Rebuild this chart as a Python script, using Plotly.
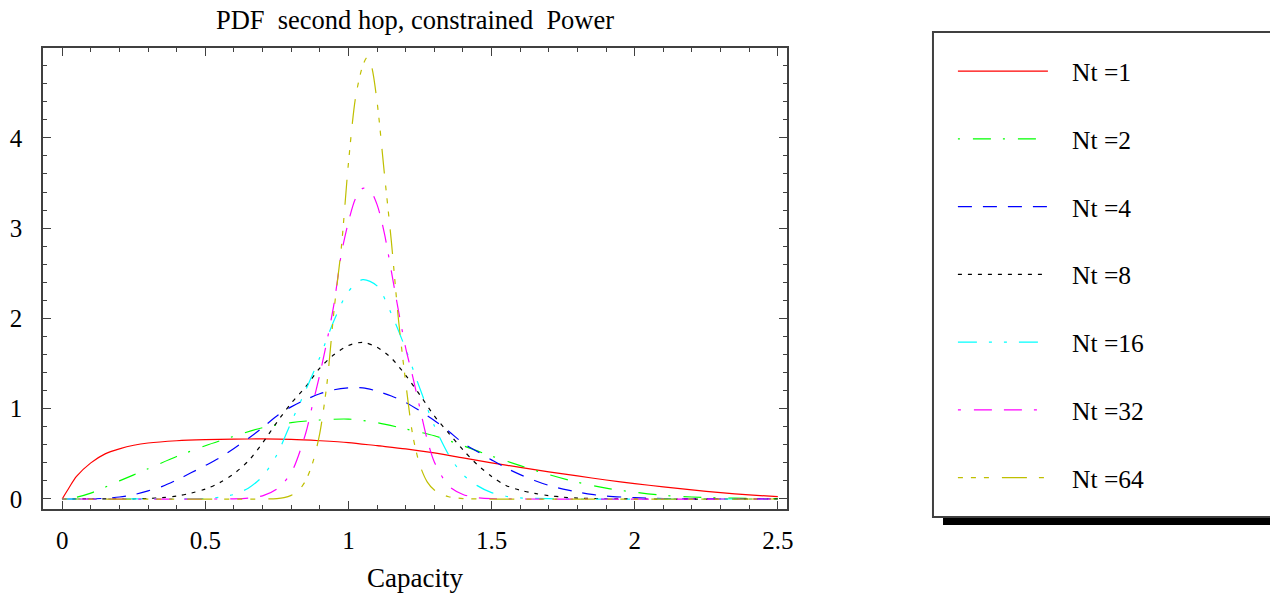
import plotly.graph_objects as go

# ---- data ----
series_names = ["Nt =1", "Nt =2", "Nt =4", "Nt =8", "Nt =16", "Nt =32", "Nt =64"]

x_nt1 = [0, 0.025, 0.05, 0.1, 0.15, 0.2, 0.25, 0.3, 0.4, 0.5, 0.6, 0.7, 0.8, 0.9, 1.0, 1.1, 1.2, 1.3,
         1.4, 1.5, 1.6, 1.7, 1.8, 1.9, 2.0, 2.1, 2.2, 2.3, 2.4, 2.5]
y_nt1 = [0, 0.13, 0.25, 0.40, 0.50, 0.555, 0.595, 0.62, 0.645, 0.657, 0.663, 0.665, 0.66, 0.645, 0.625,
         0.59, 0.555, 0.51, 0.455, 0.40, 0.35, 0.30, 0.255, 0.21, 0.17, 0.135, 0.10, 0.07, 0.045, 0.025]

x_nt2 = [0, 0.05, 0.1, 0.2, 0.3, 0.4, 0.5, 0.6, 0.7, 0.8, 0.9, 1.0, 1.1, 1.2, 1.3, 1.4, 1.5, 1.6, 1.7,
         1.8, 1.9, 2.0, 2.1, 2.2, 2.3, 2.4, 2.5]
y_nt2 = [0, 0.02, 0.065, 0.20, 0.335, 0.47, 0.59, 0.695, 0.79, 0.845, 0.875, 0.885, 0.845, 0.775, 0.70,
         0.59, 0.475, 0.37, 0.27, 0.185, 0.12, 0.075, 0.04, 0.022, 0.012, 0.006, 0.003]

x_nt4 = [0, 0.1, 0.15, 0.2, 0.25, 0.3, 0.35, 0.4, 0.45, 0.5, 0.55, 0.6, 0.65, 0.7, 0.75, 0.8, 0.85, 0.9,
         0.95, 1.0, 1.05, 1.1, 1.15, 1.2, 1.25, 1.3, 1.35, 1.4, 1.45, 1.5, 1.55, 1.6, 1.65, 1.7, 1.75,
         1.8, 1.85, 1.9, 2.0, 2.1, 2.2, 2.5]
y_nt4 = [0, 0.001, 0.008, 0.022, 0.048, 0.09, 0.14, 0.21, 0.29, 0.37, 0.455, 0.56, 0.67, 0.79, 0.92,
         1.02, 1.10, 1.165, 1.21, 1.23, 1.23, 1.195, 1.14, 1.07, 0.975, 0.87, 0.75, 0.62, 0.525, 0.433,
         0.345, 0.27, 0.205, 0.15, 0.11, 0.077, 0.05, 0.033, 0.014, 0.005, 0.002, 0]

x_nt8 = [0, 0.25, 0.3, 0.35, 0.4, 0.45, 0.5, 0.55, 0.6, 0.65, 0.7, 0.75, 0.8, 0.85, 0.9, 0.95, 1.0, 1.05,
         1.1, 1.15, 1.2, 1.25, 1.3, 1.35, 1.4, 1.45, 1.5, 1.55, 1.6, 1.65, 1.7, 1.75, 1.8, 1.9, 2.0, 2.5]
y_nt8 = [0, 0.002, 0.006, 0.015, 0.032, 0.065, 0.11, 0.18, 0.28, 0.42, 0.62, 0.85, 1.06, 1.24, 1.45,
         1.60, 1.70, 1.735, 1.68, 1.56, 1.37, 1.15, 0.92, 0.73, 0.545, 0.38, 0.25, 0.15, 0.097, 0.062,
         0.037, 0.02, 0.01, 0.003, 0, 0]

x_nt16 = [0, 0.45, 0.5, 0.55, 0.6, 0.65, 0.7, 0.75, 0.8, 0.85, 0.9, 0.95, 1.0, 1.05, 1.1, 1.15, 1.2,
          1.25, 1.3, 1.35, 1.4, 1.45, 1.5, 1.55, 1.6, 1.7, 1.8, 2.5]
y_nt16 = [0, 0.002, 0.005, 0.02, 0.05, 0.12, 0.25, 0.49, 0.85, 1.20, 1.57, 1.98, 2.30, 2.43, 2.36,
          2.05, 1.66, 1.22, 0.81, 0.49, 0.27, 0.148, 0.07, 0.03, 0.012, 0.003, 0, 0]

x_nt32 = [0, 0.6, 0.65, 0.7, 0.75, 0.8, 0.85, 0.875, 0.9, 0.925, 0.95, 0.975, 1.0, 1.025, 1.05, 1.075,
          1.1, 1.125, 1.15, 1.175, 1.2, 1.225, 1.25, 1.275, 1.3, 1.35, 1.4, 1.45, 1.5, 1.6, 2.5]
y_nt32 = [0, 0.002, 0.01, 0.035, 0.11, 0.29, 0.72, 1.05, 1.38, 1.75, 2.17, 2.71, 3.07, 3.33, 3.44, 3.42,
          3.26, 2.95, 2.52, 2.08, 1.67, 1.35, 1.0, 0.66, 0.41, 0.145, 0.05, 0.015, 0.003, 0, 0]

x_nt64 = [0, 0.7, 0.75, 0.775, 0.8, 0.825, 0.85, 0.875, 0.9, 0.925, 0.95, 0.975, 1.0, 1.025, 1.05,
          1.065, 1.08, 1.1, 1.125, 1.15, 1.175, 1.2, 1.225, 1.25, 1.275, 1.3, 1.325, 1.35, 1.4, 1.45, 2.5]
y_nt64 = [0, 0, 0.005, 0.015, 0.04, 0.09, 0.2, 0.40, 0.73, 1.28, 2.10, 2.78, 3.72, 4.45, 4.80, 4.89,
          4.80, 4.40, 3.62, 2.85, 1.98, 1.29, 0.70, 0.37, 0.19, 0.10, 0.055, 0.025, 0.005, 0, 0]

xs = [x_nt1, x_nt2, x_nt4, x_nt8, x_nt16, x_nt32, x_nt64]
ys = [y_nt1, y_nt2, y_nt4, y_nt8, y_nt16, y_nt32, y_nt64]

colors = ["#FF0000", "#00FF00", "#0000FF", "#000000", "#00FFFF", "#FF00FF", "#BFBF00"]
dashes = ["solid",
          "2px,13px,18px,12px",
          "14px,11px",
          "4px,6px",
          "19px,12px,3px,12px,3px,12px",
          "3px,13px,18px,12px,18px,12px",
          "5px,8px,5px,8px,5px,13px,25px,12px"]

FONT = "Liberation Serif, Times New Roman, serif"
PAD = "\u00a0\u00a0\u00a0"  # gap between legend line sample and its label

fig = go.Figure()
for i in range(len(series_names)):
    fig.add_trace(go.Scatter(
        x=xs[i], y=ys[i], mode="lines", name=PAD + series_names[i],
        legendgroup="g%d" % i,
        line=dict(color=colors[i], width=1.2, dash=dashes[i], shape="spline", smoothing=0.8),
        hoverinfo="skip",
    ))

axis_common = dict(
    showline=True, linecolor="#404040", linewidth=1.5, mirror="allticks",
    ticks="inside", ticklen=8, tickwidth=1, tickcolor="#404040",
    showgrid=False, zeroline=False, automargin=False,
    tickfont=dict(family=FONT, size=25, color="black"),
)

fig.update_xaxes(
    range=[-0.067, 2.532], tick0=0, dtick=0.5,
    minor=dict(tick0=0, dtick=0.1, ticks="inside", ticklen=4.5, tickcolor="#404040", tickwidth=1),
    ticklabelstandoff=8,
    title=dict(text="Capacity", font=dict(family=FONT, size=27, color="black"), standoff=19),
    **axis_common,
)
fig.update_yaxes(
    range=[-0.111, 4.995], tick0=0, dtick=1,
    minor=dict(tick0=0, dtick=0.2, ticks="inside", ticklen=4.5, tickcolor="#404040", tickwidth=1),
    ticklabelstandoff=14,
    **axis_common,
)

# legend frame + drop shadow (paper coordinates of the plot area)
fig.add_shape(type="rect", xref="paper", yref="paper", x0=1.2097, x1=1.70, y0=-0.0347, y1=1.017,
              fillcolor="black", line=dict(width=0), layer="above")
fig.add_shape(type="rect", xref="paper", yref="paper", x0=1.1962, x1=1.70, y0=-0.01735, y1=1.0347,
              fillcolor="white", line=dict(color="#404040", width=2), layer="above")

fig.update_layout(
    width=1270, height=593,
    margin=dict(l=43, r=483, t=48, b=84, autoexpand=False),
    paper_bgcolor="white", plot_bgcolor="white",
    title=dict(text="PDF  second hop, constrained  Power", x=0.5, xref="paper",
               y=1 - 20 / 593, yanchor="middle",
               font=dict(family=FONT, size=26.5, color="black")),
    showlegend=True,
    legend=dict(x=1.223, xanchor="left", y=1.0, yanchor="top",
                bgcolor="rgba(0,0,0,0)", borderwidth=0, maxheight=580,
                font=dict(family=FONT, size=25.5, color="black"),
                traceorder="grouped", tracegroupgap=31.6, itemwidth=90),
)

fig.write_html("out.html", config={"displayModeBar": False},
               post_script="document.body.style.margin='0';")
